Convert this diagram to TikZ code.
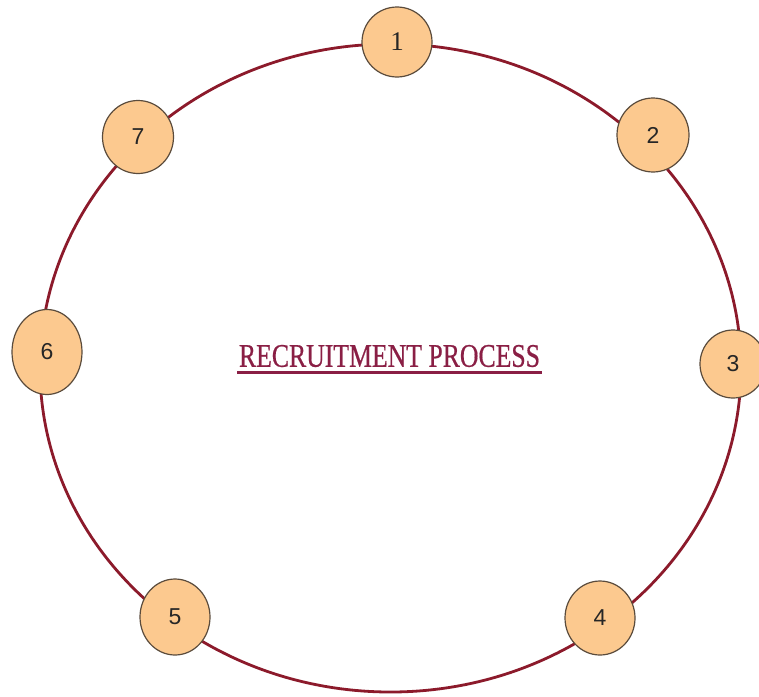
\documentclass[tikz,border=0pt]{standalone}
\usepackage{fontspec}
\setmainfont{Liberation Serif}
\newfontfamily\digitfont{Liberation Sans}
\newfontfamily\titlefont[FakeBold=0.6]{Liberation Serif}
\usetikzlibrary{shapes.geometric}
\definecolor{ringred}{HTML}{8C1A2B}
\definecolor{titlered}{HTML}{8A1F45}
\definecolor{peach}{HTML}{FCC98F}
\definecolor{rimgray}{HTML}{5A4B3C}
\tikzset{
  stepnode/.style={ellipse, draw=rimgray, line width=1.2pt, fill=peach, inner sep=0pt,
    font=\digitfont\fontsize{23}{23}\selectfont, text=black!85},
  ring/.style={draw=ringred, line width=2.8pt}
}
\begin{document}
\begin{tikzpicture}[x=1pt,y=-1pt]
\useasboundingbox (0,0) rectangle (759,696);
\fill[white] (0,0) rectangle (759,696);
\draw[ring] (390.5,368) ellipse [x radius=350.5, y radius=324];
\node[stepnode, minimum width=70pt, minimum height=70pt] (n1) at (397,42) {\rmfamily\fontsize{27}{27}\selectfont 1};
\node[stepnode, minimum width=72pt, minimum height=74pt] (n2) at (653,135) {2};
\node[stepnode, minimum width=66pt, minimum height=68pt] (n3) at (733,364) {3};
\node[stepnode, minimum width=70pt, minimum height=74pt] (n4) at (600,618) {4};
\node[stepnode, minimum width=70pt, minimum height=76pt] (n5) at (175,617) {5};
\node[stepnode, minimum width=70pt, minimum height=85pt] (n6) at (47,352) {6};
\node[stepnode, minimum width=71pt, minimum height=73pt] (n7) at (138,137) {7};
\node[text=titlered, inner sep=0pt, font=\titlefont\fontsize{33}{33}\selectfont] (title) at (389.5,356)
  {\scalebox{0.78}[1]{RECRUITMENT PROCESS}};
\coordinate (ulL) at (237,372);
\coordinate (ulR) at (542,372);
\draw[titlered, line width=3pt] (ulL) -- (ulR);
\end{tikzpicture}
\end{document}
